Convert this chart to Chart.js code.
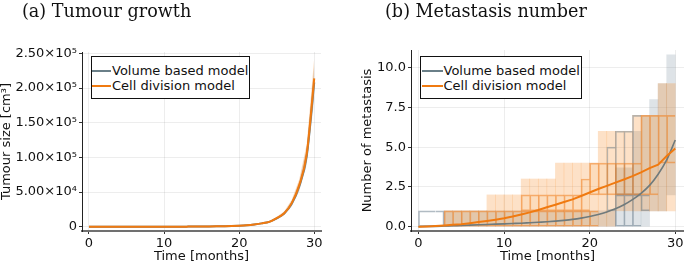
<!DOCTYPE html>
<html><head><meta charset="utf-8">
<script src="https://cdn.jsdelivr.net/npm/chart.js@4"></script>
<style>
html,body{margin:0;padding:0;background:#fff;}
#wrap{position:relative;width:684px;height:264px;overflow:hidden;background:#fff;}
canvas{position:absolute;top:0;}
.title{position:absolute;font-family:'DejaVu Serif';font-size:17.6px;color:#111;white-space:nowrap;line-height:17px;}
.legend{position:absolute;border:1px solid #111;background:#fff;box-sizing:border-box;font-family:'DejaVu Sans';font-size:13px;color:#111;}
.row{position:absolute;left:0;height:14px;line-height:14px;white-space:nowrap;}
.swatch{position:absolute;top:6px;height:2px;}
.lab{position:absolute;top:0;}
</style></head>
<body>
<div id="wrap">
  <canvas id="c1" width="342" height="264" style="left:0"></canvas>
  <canvas id="c2" width="342" height="264" style="left:342px"></canvas>
  <div class="title" style="left:22px;top:3px">(a) Tumour growth</div>
  <div class="title" style="left:385px;top:3px">(b) Metastasis number</div>
  <div class="legend" style="left:91px;top:56px;width:159px;height:43px">
    <div class="row" style="top:7px"><span class="swatch" style="left:0;width:19px;background:#6a7f88"></span><span class="lab" style="left:20px">Volume based model</span></div>
    <div class="row" style="top:21.7px"><span class="swatch" style="left:0;width:19px;background:#f07a10"></span><span class="lab" style="left:20px">Cell division model</span></div>
  </div>
  <div class="legend" style="left:420px;top:56px;width:162px;height:43px">
    <div class="row" style="top:7px"><span class="swatch" style="left:1px;width:21px;background:#6a7f88"></span><span class="lab" style="left:22.5px">Volume based model</span></div>
    <div class="row" style="top:21.7px"><span class="swatch" style="left:1px;width:21px;background:#f07a10"></span><span class="lab" style="left:22.5px">Cell division model</span></div>
  </div>
</div>
<script>
// ---------- data ----------
const months = [0,1,2,3,4,5,6,7,8,9,10,11,12,13,14,15,16,17,18,19,20,21,22,23,24,25,26,27,28,29,30];

// (a) tumour size
const cellTumourMean  = [2,3,4,5,7,9,12,16,22,30,40,56,80,110,160,230,330,480,700,1000,1500,2200,3300,4800,7000,12500,19500,34000,60000,105000,214000];
const cellTumourUpper = [2,3,5,6,8,10,14,18,25,34,46,64,91,125,182,262,376,547,798,1140,1710,2510,3760,5470,7980,14250,22230,38760,68400,119700,244000];
const cellTumourLower = [2,3,4,5,6,8,11,14,20,27,36,50,72,99,144,207,297,432,630,900,1350,1980,2970,4320,6300,11250,17550,30600,54000,94500,193000];
const volTumourMean   = [2,3,4,5,7,9,12,16,22,30,40,56,80,110,160,230,330,480,700,1000,1500,2200,3300,4800,7000,12000,19000,33000,58000,102000,208000];
const volTumourUpper  = [2,3,4,6,8,10,13,18,25,34,45,63,90,123,179,258,370,538,784,1120,1680,2460,3700,5380,7840,13440,21280,36960,64960,114000,233000];
const volTumourLower  = [2,3,4,4,6,8,11,14,19,26,35,49,70,97,141,202,290,422,616,880,1320,1940,2900,4220,6160,10560,16720,29040,51040,89800,183000];

// (b) metastasis number: mean curves at each month
const cellMetMean = [0,0.02,0.05,0.08,0.12,0.16,0.22,0.29,0.36,0.44,0.53,0.64,0.77,0.9,1.05,1.22,1.38,1.55,1.72,1.93,2.15,2.37,2.57,2.77,2.97,3.18,3.42,3.68,3.9,4.45,4.92];
const volMetMean  = [0,0.01,0.02,0.04,0.06,0.08,0.1,0.12,0.14,0.16,0.18,0.2,0.22,0.25,0.28,0.31,0.35,0.4,0.46,0.54,0.64,0.77,0.93,1.13,1.38,1.7,2.1,2.6,3.3,4.2,5.45];

// (b) per-month bands (month t covers t..t+1)
const cellBandLow  = [null,null,null,0,0,0,0,0,0,0,0,0,0,0,0,0,0,0,0,0,0,0,0,1,1,1,1,1,1,1];
const cellBandHigh = [null,null,null,1,1,1,1,1,2,2,2,2,3,3,3,3,4,4,4,4,4,6,6,6,6,7,7,7,9,9];
const volBandLow   = [null,null,null,0,0,0,0,0,0,0,0,0,0,0,0,0,0,0,0,0,0,0,0,0,0,0,0,1,1,2];
const volBandHigh  = [null,null,null,1,1,1,1,1,1,1,1,1,1,1,1,1,1,1,1,1,1,1,1,3.7,3.7,6,7,8,9,10.8];
const cellBoxALow  = [null,null,null,0,0,0,0,0,0,0,0,0,0,0,0,0,0,0,0,0,0,null,null,null,null,null,null,null,null,null];
const cellBoxAHigh = [null,null,null,1,1,1,1,1,1,1,1,1,1,1,1,1,1,1,1,1,1,null,null,null,null,null,null,null,null,null];
const cellBoxBLow  = [null,null,null,null,null,null,null,null,null,null,null,null,1,1,1,1,1,1,1,1,2,2,2,2,2,2,2,2,4,4];
const cellBoxBHigh = [null,null,null,null,null,null,null,null,null,null,null,null,2,2,2,2,2,2,2,3,4,4,4,4,4,4,7,7,7,7];
const volStartLow  = [0,0,0];
const volStartHigh = [1,1,1];
const volBoxALow   = [null,null,null,null,null,null,null,null,null,null,null,null,null,null,null,null,null,null,null,null,null,null,null,0,0,0,1,null,null,null];
const volBoxAHigh  = [null,null,null,null,null,null,null,null,null,null,null,null,null,null,null,null,null,null,null,null,null,null,null,2,2,2,2,null,null,null];
const volBoxBLow   = [null,null,null,null,null,null,null,null,null,null,null,null,null,null,null,null,null,null,null,null,null,null,1,2,2,2,null,null,null,null];
const volBoxBHigh  = [null,null,null,null,null,null,null,null,null,null,null,null,null,null,null,null,null,null,null,null,null,null,5,6,6,7,null,null,null,null];

// ticks
const xTicks = [0,10,20,30];
const tumourTicks = [0,50000,100000,150000,200000,250000];
const tumourTickLabels = ['0','5.00×10⁴','1.00×10⁵','1.50×10⁵','2.00×10⁵','2.50×10⁵'];
const metTicks = [0,2.5,5,7.5,10];
const metTickLabels = ['0.0','2.5','5.0','7.5','10.0'];

// ---------- helpers ----------
const ORANGE = '#f07a10', GRAY = '#6a7f88';
const FONT = {family:'DejaVu Sans', size:13};
const pts = arr => months.map((m,i)=>({x:m, y:arr[i]}));
const boxes = (lo,hi) => lo.map((l,i)=> l==null ? null : {x:i+0.5, y:[l,hi[i]]}).filter(d=>d);

function xScale(min,max){
  return {
    type:'linear', min, max, offset:false,
    afterBuildTicks: s => { s.ticks = xTicks.map(v=>({value:v})); },
    afterFit: s => { s.height = 33; s.paddingLeft = 0; s.paddingRight = 0; },
    grid:{color:'rgba(0,0,0,0.07)', tickColor:'#333', tickLength:3, offset:false},
    border:{color:'#707070', width:2},
    ticks:{font:FONT, color:'#111', padding:2, maxRotation:0, autoSkip:false, callback:v=>String(v)},
    title:{display:true, text:'Time [months]', font:FONT, color:'#111', padding:{top:0,bottom:0}}
  };
}
function yScale(min,max,ticks,labels,width,title,tpad){
  return {
    type:'linear', min, max,
    afterBuildTicks: s => { s.ticks = ticks.map(v=>({value:v})); },
    afterFit: s => { s.width = width; s.paddingTop = 0; s.paddingBottom = 0; },
    grid:{color:'rgba(0,0,0,0.07)', tickColor:'#333', tickLength:3},
    border:{color:'#222', width:1},
    ticks:{font:FONT, color:'#111', padding:2, autoSkip:false, callback:(v)=>{const k=ticks.indexOf(v); return k>=0?labels[k]:'';}},
    title:{display:true, text:title, font:FONT, color:'#111', padding:{top:tpad,bottom:0}}
  };
}
const common = {responsive:false, animation:false, events:[],
  plugins:{legend:{display:false}, tooltip:{enabled:false}, title:{display:false}}};

// ---------- (a) ----------
new Chart(document.getElementById('c1'), {
  type:'line',
  data:{datasets:[
    {data:pts(volTumourUpper), fill:'+1', backgroundColor:'rgba(100,125,140,0.25)', borderWidth:0, pointRadius:0, order:6},
    {data:pts(volTumourLower), fill:false, borderWidth:0, pointRadius:0, order:6},
    {data:pts(cellTumourUpper), fill:'+1', backgroundColor:'rgba(245,128,20,0.28)', borderWidth:0, pointRadius:0, order:5},
    {data:pts(cellTumourLower), fill:false, borderWidth:0, pointRadius:0, order:5},
    {data:pts(volTumourMean), borderColor:GRAY, borderWidth:2, pointRadius:0, fill:false, cubicInterpolationMode:'monotone', order:2},
    {data:pts(cellTumourMean), borderColor:ORANGE, borderWidth:2, pointRadius:0, fill:false, cubicInterpolationMode:'monotone', order:1}
  ]},
  options:{...common,
    layout:{padding:{top:52,right:21,left:0,bottom:0}},
    scales:{
      x:xScale(-0.93,30.9),
      y:yScale(-6200,252000,tumourTicks,tumourTickLabels,82,'Tumour size [cm³]',-1)
    }}
});

// ---------- (b) ----------
const EDGE = {left:1, top:1, bottom:1, right:0};
const startEdge = ctx => [{left:1,top:1,bottom:1,right:0},{left:0,top:1,bottom:1,right:0},{left:0,top:1,bottom:1,right:1}][ctx.dataIndex] || EDGE;
const barBase = {type:'bar', grouped:false, barPercentage:1, categoryPercentage:1, borderSkipped:false};
new Chart(document.getElementById('c2'), {
  type:'bar',
  data:{datasets:[
    {...barBase, data:boxes(volBandLow,volBandHigh), backgroundColor:'rgba(100,125,140,0.21)', borderWidth:0, order:9},
    {...barBase, data:boxes(cellBandLow,cellBandHigh), backgroundColor:'rgba(245,128,20,0.24)', borderWidth:0, order:8},
    {...barBase, data:boxes(volStartLow,volStartHigh), backgroundColor:'rgba(0,0,0,0)', borderColor:'rgba(100,120,135,0.5)', borderWidth:startEdge, order:7},
    {...barBase, data:boxes(volBoxALow,volBoxAHigh), backgroundColor:'rgba(0,0,0,0)', borderColor:'rgba(100,120,135,0.5)', borderWidth:EDGE, order:7},
    {...barBase, data:boxes(volBoxBLow,volBoxBHigh), backgroundColor:'rgba(0,0,0,0)', borderColor:'rgba(100,120,135,0.45)', borderWidth:EDGE, order:6},
    {...barBase, data:boxes(cellBoxALow,cellBoxAHigh), backgroundColor:'rgba(245,128,20,0.06)', borderColor:'rgba(240,120,20,0.5)', borderWidth:EDGE, order:5},
    {...barBase, data:boxes(cellBoxBLow,cellBoxBHigh), backgroundColor:'rgba(245,128,20,0.06)', borderColor:'rgba(240,120,20,0.5)', borderWidth:EDGE, order:4},
    {type:'line', data:pts(volMetMean), borderColor:'#6f7a7c', borderWidth:1.6, pointRadius:0, fill:false, cubicInterpolationMode:'monotone', order:2},
    {type:'line', data:pts(cellMetMean), borderColor:ORANGE, borderWidth:2, pointRadius:0, fill:false, order:1}
  ]},
  options:{...common,
    layout:{padding:{top:50,right:0,left:0,bottom:0}},
    scales:{
      x:xScale(-0.87,31.02),
      y:yScale(-0.27,11.11,metTicks,metTickLabels,69,'Number of metastasis',18)
    }}
});
</script>
</body></html>
